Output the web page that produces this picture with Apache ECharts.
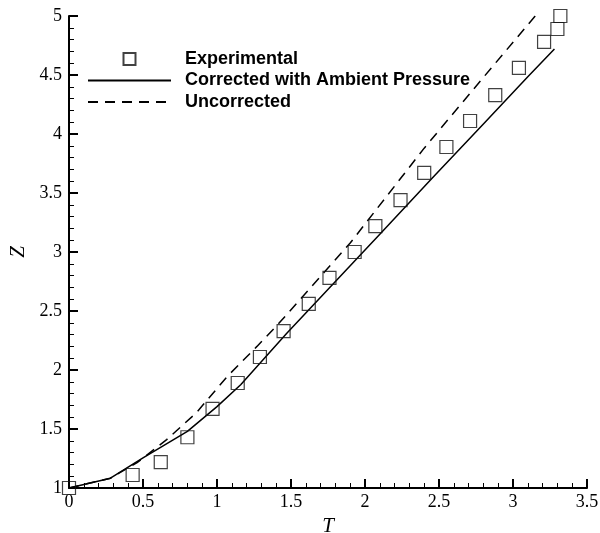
<!DOCTYPE html>
<html>
<head>
<meta charset="utf-8">
<script src="https://cdn.jsdelivr.net/npm/echarts@6/dist/echarts.min.js"></script>
<style>
  html, body { margin: 0; padding: 0; background: #fff; }
  #chart { width: 600px; height: 533px; }
</style>
</head>
<body>
<div id="chart"></div>
<script>
  // experimental points
  var expT = [0, 0.43, 0.62, 0.80, 0.97, 1.14, 1.29, 1.45, 1.62, 1.76, 1.93, 2.07, 2.24, 2.40, 2.55, 2.71, 2.88, 3.04, 3.21, 3.30, 3.32];
  var expZ = [1.0, 1.11, 1.22, 1.43, 1.67, 1.89, 2.11, 2.33, 2.56, 2.78, 3.0, 3.22, 3.44, 3.67, 3.89, 4.11, 4.33, 4.56, 4.78, 4.89, 5.0];

  // corrected with ambient pressure
  var corT = [0, 0.28, 0.5, 0.8, 1.0, 1.16, 1.47, 1.8, 2.1, 2.45, 2.8, 3.1, 3.28];
  var corZ = [1.0, 1.083, 1.255, 1.48, 1.69, 1.875, 2.31, 2.75, 3.15, 3.62, 4.085, 4.485, 4.72];

  // uncorrected
  var uncT = [0, 0.28, 0.46, 0.66, 0.86, 1.07, 1.27, 1.41, 1.9, 2.4, 2.8, 3.15];
  var uncZ = [1.0, 1.083, 1.215, 1.41, 1.637, 1.946, 2.2, 2.384, 3.076, 3.88, 4.48, 5.0];

  function pairs(xs, ys) {
    var out = [];
    for (var i = 0; i < xs.length; i++) {
      out.push([xs[i], ys[i]]);
    }
    return out;
  }

  var myEcharts = echarts.init(document.getElementById('chart'));
  var axisFont = { fontFamily: 'Liberation Serif', fontSize: 18, color: '#000' };
  var nameFont = { fontFamily: 'Liberation Serif', fontStyle: 'italic', fontSize: 21, color: '#000' };

  var options = {
    animation: false,
    grid: { left: 69, right: 13, top: 16, bottom: 45, outerBoundsMode: 'none' },
    legend: {
      orient: 'vertical',
      left: 87,
      top: 50,
      padding: 0,
      itemWidth: 83,
      itemHeight: 12,
      itemGap: 3.5,
      textStyle: {
        fontFamily: 'Liberation Sans',
        fontWeight: 'bold',
        fontSize: 18,
        color: '#000',
        padding: [0, 0, 0, 9]
      },
      data: [
        { name: 'Experimental', icon: 'path://M0,0L10,0L10,10L0,10Z' },
        { name: 'Corrected with Ambient Pressure', itemStyle: { opacity: 0 } },
        { name: 'Uncorrected', itemStyle: { opacity: 0 } }
      ]
    },
    xAxis: {
      type: 'value',
      min: 0,
      max: 3.5,
      interval: 0.5,
      name: 'T',
      nameLocation: 'middle',
      nameGap: 22,
      nameTextStyle: nameFont,
      axisLine: { show: true, lineStyle: { color: '#000', width: 2 } },
      axisTick: { show: true, inside: true, length: 9, lineStyle: { color: '#000', width: 2 } },
      minorTick: { show: true, splitNumber: 5, length: 5, lineStyle: { color: '#000', width: 1 } },
      splitLine: { show: false },
      axisLabel: Object.assign({ margin: 5 }, axisFont)
    },
    yAxis: {
      type: 'value',
      min: 1,
      max: 5,
      interval: 0.5,
      name: 'Z',
      nameLocation: 'middle',
      nameGap: 34,
      nameRotate: 90,
      nameTextStyle: nameFont,
      axisLine: { show: true, lineStyle: { color: '#000', width: 2 } },
      axisTick: { show: true, inside: true, length: 9, lineStyle: { color: '#000', width: 2 } },
      minorTick: { show: true, splitNumber: 5, length: 5, lineStyle: { color: '#000', width: 1 } },
      splitLine: { show: false },
      axisLabel: Object.assign({ margin: 7 }, axisFont)
    },
    series: [
      {
        name: 'Experimental',
        type: 'scatter',
        symbol: 'rect',
        symbolSize: 13,
        clip: false,
        itemStyle: { color: 'rgba(0,0,0,0)', borderColor: '#111', borderWidth: 1.2 },
        data: pairs(expT, expZ),
        z: 3
      },
      {
        name: 'Corrected with Ambient Pressure',
        type: 'line',
        symbol: 'none',
        lineStyle: { color: '#000', width: 1.5 },
        itemStyle: { color: '#000' },
        data: pairs(corT, corZ)
      },
      {
        name: 'Uncorrected',
        type: 'line',
        symbol: 'none',
        lineStyle: { color: '#000', width: 1.5, type: [10, 7] },
        itemStyle: { color: '#000' },
        data: pairs(uncT, uncZ)
      }
    ]
  };
  myEcharts.setOption(options, true);
</script>
</body>
</html>
